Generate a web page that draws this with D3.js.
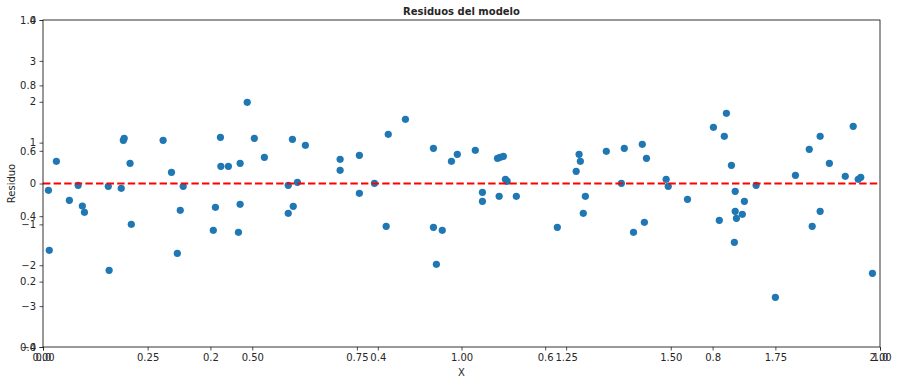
<!DOCTYPE html>
<html>
<head>
<meta charset="UTF-8">
<title>Residuos del modelo</title>
<script src="https://cdn.jsdelivr.net/npm/d3@7"></script>
<style>
  body { margin: 0; background: #fff; }
  text { font-family: "DejaVu Sans", sans-serif; fill: #262626; }
</style>
</head>
<body>
<svg id="chart" width="898" height="385"></svg>
<script>
// valores
var xVals = [0.013,0.032,0.015,0.063,0.084,0.094,0.099,0.156,0.158,0.187,
  0.192,0.194,0.208,0.211,0.287,0.307,0.335,0.328,0.321,0.407,
  0.412,0.424,0.425,0.443,0.471,0.471,0.467,0.488,0.505,0.529,
  0.586,0.586,0.598,0.596,0.608,0.627,0.710,0.710,0.756,0.756,
  0.792,0.825,0.820,0.866,0.933,0.933,0.954,0.940,0.976,0.990,
  1.033,1.050,1.050,1.086,1.092,1.100,1.090,1.105,1.109,1.131,
  1.229,1.274,1.281,1.284,1.296,1.291,1.346,1.389,1.382,1.432,
  1.442,1.437,1.411,1.489,1.494,1.540,1.602,1.633,1.628,1.645,
  1.654,1.676,1.654,1.657,1.671,1.616,1.652,1.704,1.750,1.798,
  1.831,1.857,1.879,1.857,1.838,1.917,1.936,1.948,1.954,1.982];
var residuos = [-0.166,0.543,-1.634,-0.411,-0.044,-0.550,-0.705,-0.068,-2.124,-0.117,
  1.057,1.106,0.494,-0.998,1.057,0.274,-0.068,-0.656,-1.708,-1.145,
  -0.582,1.130,0.421,0.421,0.494,-0.509,-1.194,1.987,1.106,0.641,
  -0.044,-0.729,-0.558,1.081,0.029,0.935,0.592,0.323,0.690,-0.240,
  0.005,1.204,-1.047,1.571,0.861,-1.072,-1.145,-1.977,0.543,0.714,
  0.812,-0.215,-0.435,0.617,0.641,0.665,-0.313,0.103,0.054,-0.313,
  -1.072,0.298,0.714,0.543,-0.313,-0.729,0.788,0.861,0.005,0.959,
  0.617,-0.949,-1.194,0.103,-0.068,-0.387,1.375,1.717,1.155,0.445,
  -0.191,-0.435,-0.680,-0.851,-0.753,-0.900,-1.439,-0.044,-2.784,0.201,
  0.837,1.155,0.494,-0.680,-1.047,0.176,1.399,0.103,0.152,-2.197];

var xTicks = [0, 0.25, 0.5, 0.75, 1.0, 1.25, 1.5, 1.75, 2.0];
var yTicks = [-4, -3, -2, -1, 0, 1, 2, 3, 4];
var unitTicks = [0, 0.2, 0.4, 0.6, 0.8, 1.0];   // ejes vacios superpuestos

var margin = {left: 43, right: 18, top: 20, bottom: 38};
var svg = d3.select("#chart");
var W = +svg.attr("width"), H = +svg.attr("height");
var x = d3.scaleLinear().domain([0, 2]).range([margin.left, W - margin.right]);
var y = d3.scaleLinear().domain([-4, 4]).range([H - margin.bottom, margin.top]);
var ux = d3.scaleLinear().domain([0, 1]).range(x.range());
var uy = d3.scaleLinear().domain([0, 1]).range(y.range());

var fmtMinus = function (f) { return function (d) { return f(d).replace("-", "\u2212"); }; };

function styleAxis(g) {
  g.select(".domain").remove();
  g.selectAll("line").attr("stroke", "#262626").attr("stroke-width", 0.8);
  g.selectAll("text").attr("font-size", 10).attr("font-family", "DejaVu Sans").attr("fill", "#262626");
}

// ejes de fondo 0..1
svg.append("g").attr("transform", "translate(0," + y.range()[0] + ")")
  .call(d3.axisBottom(ux).tickValues(unitTicks).tickFormat(d3.format(".1f")).tickSize(3.5).tickPadding(3.5))
  .call(styleAxis);
svg.append("g").attr("transform", "translate(" + margin.left + ",0)")
  .call(d3.axisLeft(uy).tickValues(unitTicks).tickFormat(d3.format(".1f")).tickSize(3.5).tickPadding(3.5))
  .call(styleAxis);

// ejes principales
svg.append("g").attr("transform", "translate(0," + y.range()[0] + ")")
  .call(d3.axisBottom(x).tickValues(xTicks).tickFormat(d3.format(".2f")).tickSize(3.5).tickPadding(3.5))
  .call(styleAxis);
svg.append("g").attr("transform", "translate(" + margin.left + ",0)")
  .call(d3.axisLeft(y).tickValues(yTicks).tickFormat(fmtMinus(d3.format("d"))).tickSize(3.5).tickPadding(3.5))
  .call(styleAxis);

// puntos
svg.append("g").selectAll("circle")
  .data(xVals.map(function (d, i) { return [d, residuos[i]]; }))
  .enter().append("circle")
  .attr("cx", function (d) { return x(d[0]); })
  .attr("cy", function (d) { return y(d[1]); })
  .attr("r", 3.6)
  .attr("fill", "#1f77b4");

// linea de cero
svg.append("line")
  .attr("x1", x(0)).attr("x2", x(2))
  .attr("y1", y(0)).attr("y2", y(0))
  .attr("stroke", "red").attr("stroke-width", 2)
  .attr("stroke-dasharray", "7.4,3.2");

// marco
svg.append("rect")
  .attr("x", x(0)).attr("y", y(4))
  .attr("width", x(2) - x(0)).attr("height", y(-4) - y(4))
  .attr("fill", "none").attr("stroke", "#000").attr("stroke-width", 0.8);

svg.append("text").attr("x", (x(0) + x(2)) / 2).attr("y", 15)
  .attr("text-anchor", "middle").attr("font-size", 10).attr("font-weight", "bold")
  .attr("fill", "#000").text("Residuos del modelo");
svg.append("text").attr("x", (x(0) + x(2)) / 2).attr("y", 376)
  .attr("text-anchor", "middle").attr("font-size", 10).text("X");
svg.append("text")
  .attr("transform", "translate(15," + y(0) + ") rotate(-90)")
  .attr("text-anchor", "middle").attr("font-size", 10).text("Residuo");
</script>
</body>
</html>
